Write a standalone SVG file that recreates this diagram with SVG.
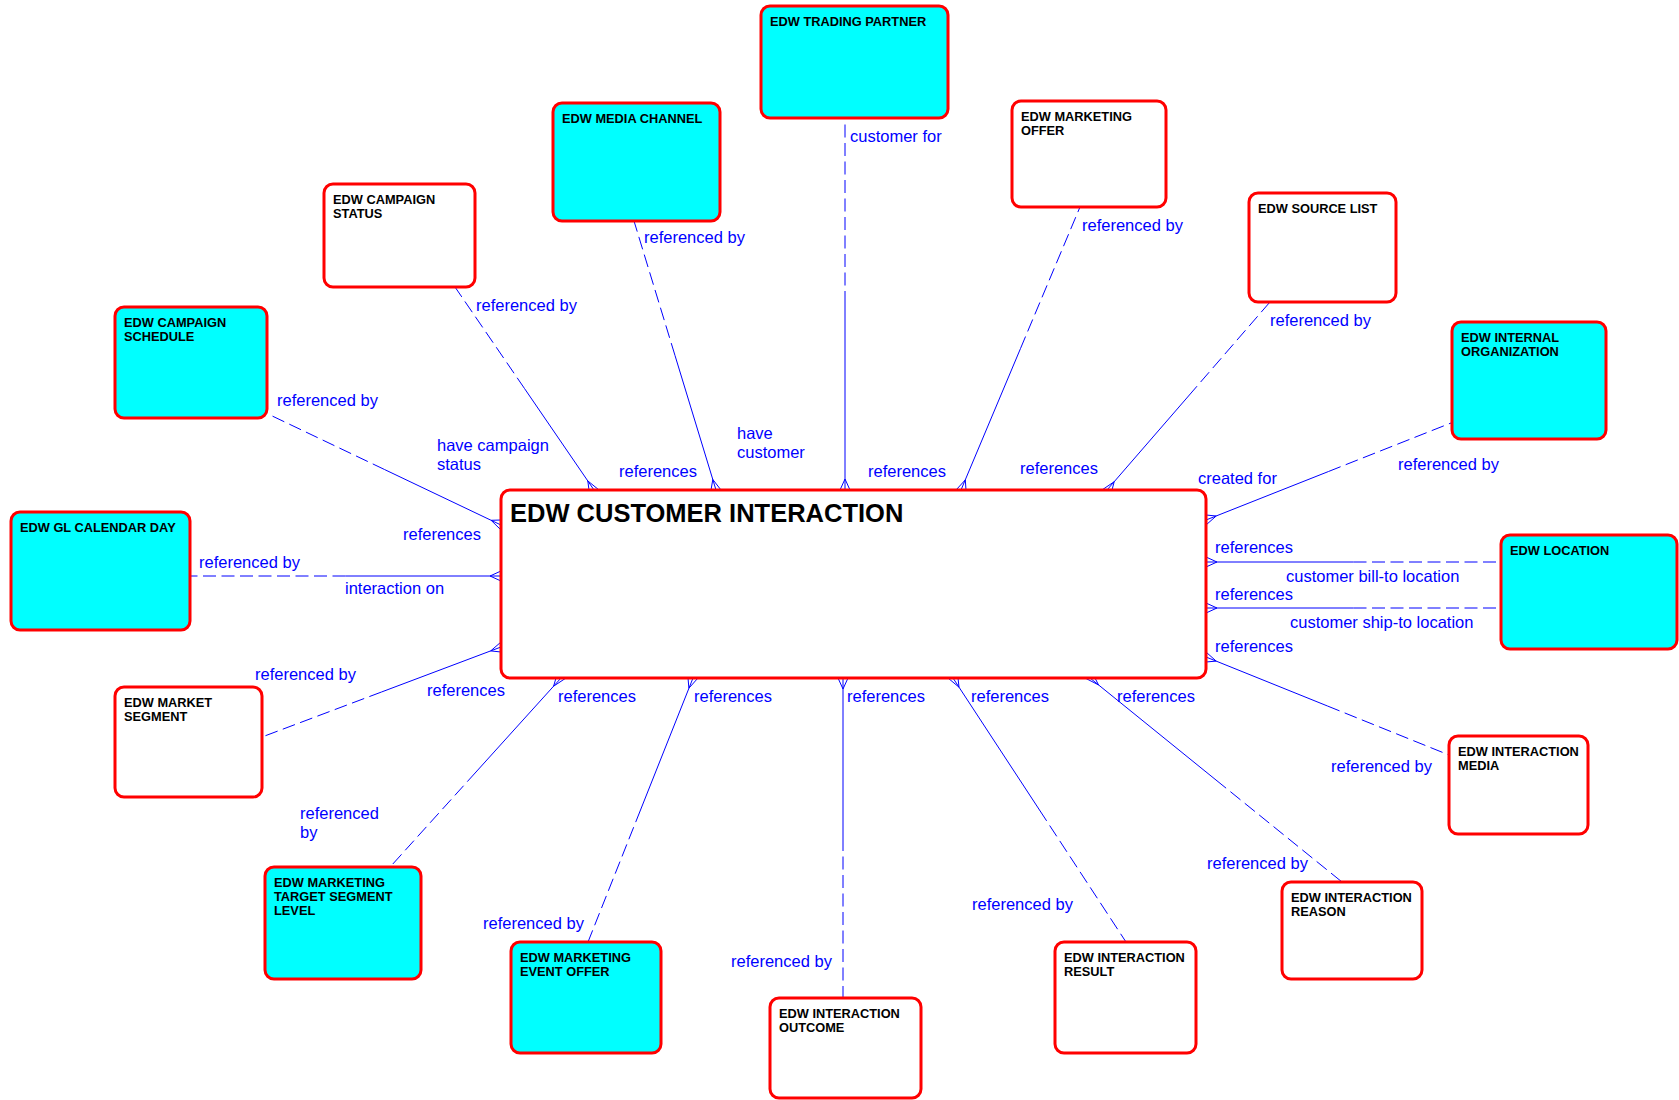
<svg xmlns="http://www.w3.org/2000/svg" width="1679" height="1100" viewBox="0 0 1679 1100">
<style>
.ent{stroke:#ff0000;stroke-width:3;rx:9;ry:9}
.cy{fill:#00ffff}
.wh{fill:#ffffff}
.nt{font-family:"Liberation Sans",Arial,sans-serif;font-size:12.8px;font-weight:bold;fill:#000}
.tt{font-family:"Liberation Sans",Arial,sans-serif;font-size:25.5px;font-weight:bold;fill:#000}
.lb{font-family:"Liberation Sans",Arial,sans-serif;font-size:16.5px;fill:#0000ff}
.s{stroke:#0000ff;stroke-width:1;fill:none}
.d{stroke:#0000ff;stroke-width:1;fill:none;stroke-dasharray:13 5.5}
</style>
<rect width="1679" height="1100" fill="#ffffff"/>
<g id="connectors">
<!-- Trading partner -->
<line class="s" x1="845" y1="490" x2="845" y2="304"/><line class="d" x1="845" y1="304" x2="845" y2="118"/>
<path class="s" d="M840,490 L845,479 L850,490"/>
<!-- Media channel -->
<line class="s" x1="716" y1="490" x2="675" y2="355.5"/><line class="d" x1="675" y1="355.5" x2="634" y2="221"/>
<path class="s" d="M711,490 L712.8,479.5 L721,490"/>
<!-- Campaign status -->
<line class="s" x1="594" y1="490" x2="524.5" y2="388.5"/><line class="d" x1="524.5" y1="388.5" x2="455" y2="287"/>
<path class="s" d="M589,490 L587.8,480.9 L599,490"/>
<!-- Campaign schedule -->
<line class="s" x1="501" y1="525" x2="384.5" y2="469.5"/><line class="d" x1="384.5" y1="469.5" x2="268" y2="414"/>
<path class="s" d="M501,520 L491.1,520.3 L501,530"/>
<!-- GL calendar day -->
<line class="s" x1="501" y1="576" x2="345.5" y2="576"/><line class="d" x1="345.5" y1="576" x2="190" y2="576"/>
<path class="s" d="M501,571 L490,576 L501,581"/>
<!-- Market segment -->
<line class="s" x1="501" y1="647" x2="381.5" y2="692"/><line class="d" x1="381.5" y1="692" x2="262" y2="737"/>
<path class="s" d="M501,642 L490.7,650.9 L501,652"/>
<!-- Marketing target segment level -->
<line class="s" x1="561" y1="678" x2="476" y2="772"/><line class="d" x1="476" y1="772" x2="391" y2="866"/>
<path class="s" d="M556,678 L553.6,686.2 L566,678"/>
<!-- Marketing event offer -->
<line class="s" x1="693" y1="678" x2="640.5" y2="810"/><line class="d" x1="640.5" y1="810" x2="588" y2="942"/>
<path class="s" d="M688,678 L688.9,688.2 L698,678"/>
<!-- Interaction outcome -->
<line class="s" x1="843" y1="678" x2="843" y2="838"/><line class="d" x1="843" y1="838" x2="843" y2="998"/>
<path class="s" d="M838,678 L843,689 L848,678"/>
<!-- Interaction result -->
<line class="s" x1="953" y1="678" x2="1039.5" y2="810"/><line class="d" x1="1039.5" y1="810" x2="1126" y2="942"/>
<path class="s" d="M948,678 L959,687.2 L958,678"/>
<!-- Interaction reason -->
<line class="s" x1="1090" y1="678" x2="1216" y2="780"/><line class="d" x1="1216" y1="780" x2="1342" y2="882"/>
<path class="s" d="M1085,678 L1098.5,684.9 L1095,678"/>
<!-- Interaction media -->
<line class="s" x1="1206" y1="657" x2="1327.5" y2="706"/><line class="d" x1="1327.5" y1="706" x2="1449" y2="755"/>
<path class="s" d="M1206,652 L1216.2,661.1 L1206,662"/>
<!-- Location bill-to -->
<line class="s" x1="1206" y1="562" x2="1353.5" y2="562"/><line class="d" x1="1353.5" y1="562" x2="1501" y2="562"/>
<path class="s" d="M1206,557 L1217,562 L1206,567"/>
<!-- Location ship-to -->
<line class="s" x1="1206" y1="608" x2="1353.5" y2="608"/><line class="d" x1="1353.5" y1="608" x2="1501" y2="608"/>
<path class="s" d="M1206,603 L1217,608 L1206,613"/>
<!-- Internal organization -->
<line class="s" x1="1206" y1="520" x2="1328.5" y2="471.5"/><line class="d" x1="1328.5" y1="471.5" x2="1451" y2="423"/>
<path class="s" d="M1206,515 L1216.2,516 L1206,525"/>
<!-- Source list -->
<line class="s" x1="1107" y1="490" x2="1188.5" y2="396"/><line class="d" x1="1188.5" y1="396" x2="1270" y2="302"/>
<path class="s" d="M1102,490 L1114.2,481.7 L1112,490"/>
<!-- Marketing offer -->
<line class="s" x1="961" y1="490" x2="1020.5" y2="348.5"/><line class="d" x1="1020.5" y1="348.5" x2="1080" y2="207"/>
<path class="s" d="M956,490 L965.3,479.9 L966,490"/>
</g>
<g id="connector-labels" class="lb">
<text x="850" y="142">customer for</text>
<text x="737" y="439">have</text><text x="737" y="458">customer</text>
<text x="644" y="243">referenced by</text>
<text x="619" y="477">references</text>
<text x="476" y="311">referenced by</text>
<text x="437" y="451">have campaign</text><text x="437" y="470">status</text>
<text x="277" y="406">referenced by</text>
<text x="403" y="540">references</text>
<text x="199" y="568">referenced by</text>
<text x="345" y="594">interaction on</text>
<text x="255" y="680">referenced by</text>
<text x="427" y="696">references</text>
<text x="300" y="819">referenced</text><text x="300" y="838">by</text>
<text x="558" y="702">references</text>
<text x="483" y="929">referenced by</text>
<text x="694" y="702">references</text>
<text x="847" y="702">references</text>
<text x="731" y="967">referenced by</text>
<text x="971" y="702">references</text>
<text x="972" y="910">referenced by</text>
<text x="1117" y="702">references</text>
<text x="1207" y="869">referenced by</text>
<text x="1215" y="652">references</text>
<text x="1331" y="772">referenced by</text>
<text x="1215" y="553">references</text>
<text x="1286" y="582">customer bill-to location</text>
<text x="1215" y="600">references</text>
<text x="1290" y="628">customer ship-to location</text>
<text x="1198" y="484">created for</text>
<text x="1398" y="470">referenced by</text>
<text x="1270" y="326">referenced by</text>
<text x="1020" y="474">references</text>
<text x="868" y="477">references</text>
<text x="1082" y="231">referenced by</text>
</g>
<g id="edw-customer-interaction">
<rect class="ent wh" x="501" y="490" width="705" height="188"/>
<text class="tt" x="510" y="522">EDW CUSTOMER INTERACTION</text>
</g>
<g id="edw-trading-partner">
<rect class="ent cy" x="761" y="6" width="187" height="112"/>
<text class="nt" x="770" y="26">EDW TRADING PARTNER</text>
</g>
<g id="edw-media-channel">
<rect class="ent cy" x="553" y="103" width="167" height="118"/>
<text class="nt" x="562" y="123">EDW MEDIA CHANNEL</text>
</g>
<g id="edw-marketing-offer">
<rect class="ent wh" x="1012" y="101" width="154" height="106"/>
<text class="nt" x="1021" y="121">EDW MARKETING</text><text class="nt" x="1021" y="135">OFFER</text>
</g>
<g id="edw-campaign-status">
<rect class="ent wh" x="324" y="184" width="151" height="103"/>
<text class="nt" x="333" y="204">EDW CAMPAIGN</text><text class="nt" x="333" y="218">STATUS</text>
</g>
<g id="edw-campaign-schedule">
<rect class="ent cy" x="115" y="307" width="152" height="111"/>
<text class="nt" x="124" y="327">EDW CAMPAIGN</text><text class="nt" x="124" y="341">SCHEDULE</text>
</g>
<g id="edw-source-list">
<rect class="ent wh" x="1249" y="193" width="147" height="109"/>
<text class="nt" x="1258" y="213">EDW SOURCE LIST</text>
</g>
<g id="edw-internal-organization">
<rect class="ent cy" x="1452" y="322" width="154" height="117"/>
<text class="nt" x="1461" y="342">EDW INTERNAL</text><text class="nt" x="1461" y="356">ORGANIZATION</text>
</g>
<g id="edw-location">
<rect class="ent cy" x="1501" y="535" width="176" height="114"/>
<text class="nt" x="1510" y="555">EDW LOCATION</text>
</g>
<g id="edw-gl-calendar-day">
<rect class="ent cy" x="11" y="512" width="179" height="118"/>
<text class="nt" x="20" y="532">EDW GL CALENDAR DAY</text>
</g>
<g id="edw-market-segment">
<rect class="ent wh" x="115" y="687" width="147" height="110"/>
<text class="nt" x="124" y="707">EDW MARKET</text><text class="nt" x="124" y="721">SEGMENT</text>
</g>
<g id="edw-marketing-target-segment-level">
<rect class="ent cy" x="265" y="867" width="156" height="112"/>
<text class="nt" x="274" y="887">EDW MARKETING</text><text class="nt" x="274" y="901">TARGET SEGMENT</text><text class="nt" x="274" y="915">LEVEL</text>
</g>
<g id="edw-marketing-event-offer">
<rect class="ent cy" x="511" y="942" width="150" height="111"/>
<text class="nt" x="520" y="962">EDW MARKETING</text><text class="nt" x="520" y="976">EVENT OFFER</text>
</g>
<g id="edw-interaction-outcome">
<rect class="ent wh" x="770" y="998" width="151" height="100"/>
<text class="nt" x="779" y="1018">EDW INTERACTION</text><text class="nt" x="779" y="1032">OUTCOME</text>
</g>
<g id="edw-interaction-result">
<rect class="ent wh" x="1055" y="942" width="141" height="111"/>
<text class="nt" x="1064" y="962">EDW INTERACTION</text><text class="nt" x="1064" y="976">RESULT</text>
</g>
<g id="edw-interaction-reason">
<rect class="ent wh" x="1282" y="882" width="140" height="97"/>
<text class="nt" x="1291" y="902">EDW INTERACTION</text><text class="nt" x="1291" y="916">REASON</text>
</g>
<g id="edw-interaction-media">
<rect class="ent wh" x="1449" y="736" width="139" height="98"/>
<text class="nt" x="1458" y="756">EDW INTERACTION</text><text class="nt" x="1458" y="770">MEDIA</text>
</g>
</svg>
